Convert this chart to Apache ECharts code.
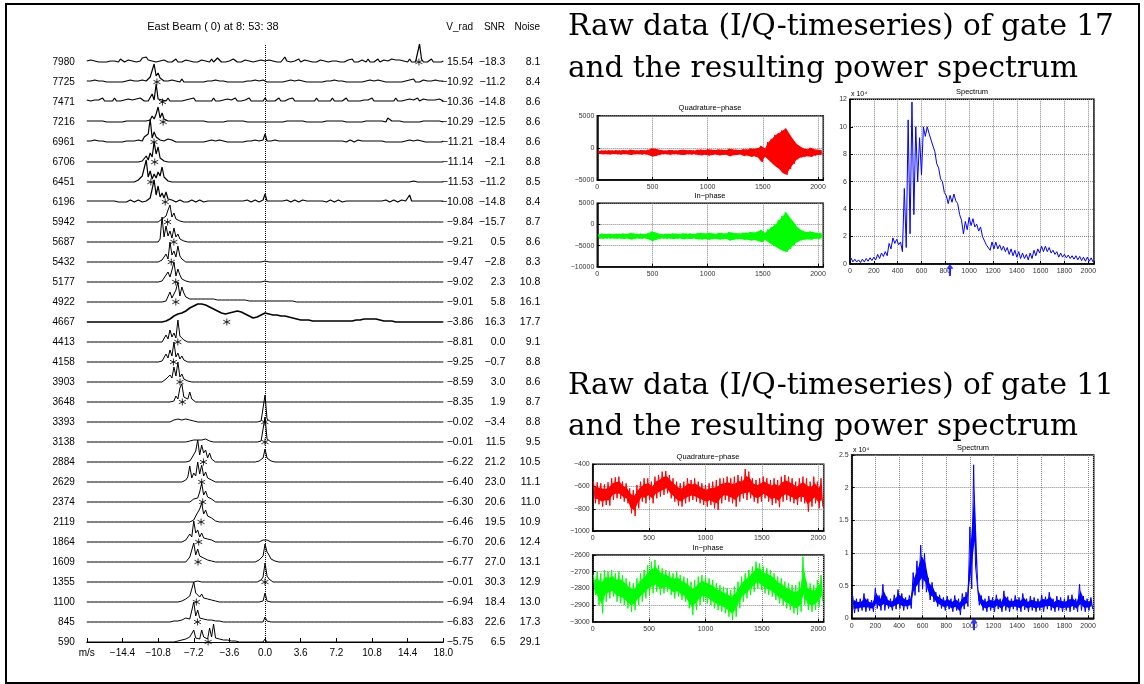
<!DOCTYPE html>
<html>
<head>
<meta charset="utf-8">
<title>East Beam spectra and raw I/Q data</title>
<script src="https://cdn.jsdelivr.net/npm/echarts@6/dist/echarts.min.js"></script>
<style>
    html, body { margin: 0; padding: 0; background: #fff; }
    #chart { width: 1144px; height: 684px; }
</style>
</head>
<body>
<div id="chart"></div>
<script>
// ---------------- 左边: 各距离门的多普勒谱 ----------------
var gates = [7980, 7725, 7471, 7216, 6961, 6706, 6451, 6196, 5942, 5687,
    5432, 5177, 4922, 4667, 4413, 4158, 3903, 3648, 3393, 3138,
    2884, 2629, 2374, 2119, 1864, 1609, 1355, 1100, 845, 590];
var vRad = [15.54, -10.92, -10.36, -10.29, -11.21, -11.14, -11.53, -10.08, -9.84, -9.21,
    -9.47, -9.02, -9.01, -3.86, -8.81, -9.25, -8.59, -8.35, -0.02, -0.01,
    -6.22, -6.40, -6.30, -6.46, -6.70, -6.77, -0.01, -6.94, -6.83, -5.75];
var snr = [-18.3, -11.2, -14.8, -12.5, -18.4, -2.1, -11.2, -14.8, -15.7, 0.5,
    -2.8, 2.3, 5.8, 16.3, 0.0, -0.7, 3.0, 1.9, -3.4, 11.5,
    21.2, 23.0, 20.6, 19.5, 20.6, 27.0, 30.3, 18.4, 22.6, 6.5];
var noise = [8.1, 8.4, 8.6, 8.6, 8.6, 8.8, 8.5, 8.4, 8.7, 8.6,
    8.3, 10.8, 16.1, 17.7, 9.1, 8.8, 8.6, 8.7, 8.8, 9.5,
    10.5, 11.1, 11.0, 10.9, 12.4, 13.1, 12.9, 13.0, 17.3, 29.1];

// 谱线高度 (base36, 像素), 每个字符一个 0.2 m/s 速度单元, 从 -18 到 18 m/s, 每组 10 个 = 2 m/s
var velStart = -18, velStep = 0.2, velBins = 181;
var spectra = [
    '1020130201 0210120310 1201302143 5241302102 1020130201 2013020120 1203014201 0210310201 2013021020 1020130201 5120210301 2013020120 1302101302 0120302012 1030201302 2010312021 12030201i3 0201302010 1',
    '1010201010 0102010201 1020101020 1253i69421 0102010030 1010201010 0101020101 1020101020 0101020102 1010102010 0102010201 1020101020 0101020101 1020101020 0102010201 1010201010 0102030102 2010102010 1',
    '2313212141 3121413122 1312131421 21382i3523 1412131213 2131413121 3121412132 1312141213 2141312131 4131212413 1231413121 2131214131 3121413121 1413121312 2121413121 3121214131 1213121412 3121212131 1',
    '1010101010 0101020101 1010101010 132638f493 2101010101 0101010101 1010101010 0101010101 1010101010 1010101010 0101010101 1010101010 0101010101 1010101010 0101010101 1042101010 0101010101 1010101010 0',
    '1010201010 0102010102 1010102315 38n4a56241 2312101020 1010102010 0102010201 1020101020 0101020102 8101020101 2121010101 0101210121 0121012101 1012101201 0121010101 2010201010 0102010201 1010201010 1',
    '0000000000 0000000000 0000000013 6295k8f421 1000000000 0000000000 0000000000 0000000000 0000000000 1000000000 0000000000 0000000000 0000000000 0000000000 0000000000 0000000000 0000000000 0000000000 0',
    '0000000000 0000000000 0000002164 m5b384a6f5 3100000000 0000000000 0000000000 0000000000 0000000000 1000000000 0000000000 0000000000 0000000000 0000000000 0000000000 0000000000 0000010000 0000000000 0',
    '1012101010 1210120101 0121012101 1242m7g594 a312101210 1012101210 2101210121 0121012101 1210121012 8101210121 1210121012 0121012101 1012101210 2101210121 0121012101 1210121012 0127101210 1210121012 1',
    '0000000000 0000000000 0000000000 0000000132 6ch5934100 0000000000 0000000000 0000000000 0000000000 1000000000 0000000000 0000000000 0000000000 0000000000 0000000000 0000000000 0000000000 0000000000 0',
    '0000000000 0000000000 0000000000 00000003p5 g6b4e58321 0000000000 0000000000 0000000000 0000000000 1000000000 0000000000 0000000000 0000000000 0000000000 0000000000 0000000000 0000000000 0000000000 0',
    '0000000000 0000000000 0000000000 0000000025 83k7b5g631 0000000000 0000000000 0000000000 0000000000 1000000000 0000000000 0000000000 0000000000 0000000000 0000000000 0000000000 0000000000 0000000000 0',
    '0000000000 0000000000 0000000000 0000000014 6a5ck6d732 1000000000 0000000000 0000000000 0000000000 1000000000 0000000000 0000000000 0000000000 0000000000 0000000000 0000000000 0000000000 0000000000 0',
    '0000000000 0000000000 0000000000 0000000000 13a48ck6f9 5333333333 3333322222 2222222222 2211111111 1111111111 1111110000 0000000000 0000000000 0000000000 0000000000 0000000000 0000000000 0000000000 0',
    '0000000000 0000000000 0000000000 0000000001 123567889a bcefghiiih hgfedcba98 889aabbba9 8765445678 9887777666 6555443322 2221111111 1111111111 1111112222 3333333222 1111100000 0000000000 0000000000 0',
    '0000000000 0000000000 0000000000 0000000002 73c594m652 1000000000 0000000000 0000000000 0000000000 2000000000 0000000000 0000000000 0000000000 0000000000 0000000000 0000000000 0000000000 0000000000 0',
    '0000000000 0000000000 0000000000 0000000013 84c6k59362 1000000000 0000000000 0000000000 0000000000 1000000000 0000000000 0000000000 0000000000 0000000000 0000000000 0000000000 0000000000 0000000000 0',
    '0000000000 0000000000 0000000000 0000000001 3274f6k583 4100000000 0000000000 0000000000 0000000000 2000000000 0000000000 0000000000 0000000000 0000000000 0000000000 0000000000 0000000000 0000000000 0',
    '0000000000 0000000000 0000000000 0000000000 0002163ei5 73a3100000 0000000000 0000000000 0000000000 2000000000 0000000000 0000000000 0000000000 0000000000 0000000000 0000000000 0000000000 0000000000 0',
    '0000000000 0000000000 0000000000 0000000000 0001223323 3221100000 0000000000 0000000000 0000000013 r310000000 0000000000 0000000000 0000000000 0000000000 0000000000 0000000000 0000000000 0000000000 0',
    '0000000000 0000000000 0000000000 0000000000 0000000000 0012232322 3211000000 0000000000 0000000013 p310000000 0000000000 0000000000 0000000000 0000000000 0000000000 0000000000 0000000000 0000000000 0',
    '0000000000 0000000000 0000000000 0000000000 0000000000 00142bm7h9 c493100000 0000000000 0000000124 d421000000 0000000000 0000000000 0000000000 0000000000 0000000000 0000000000 0000000000 0000000000 0',
    '0000000000 0000000000 0000000000 0000000000 0000000001 25g496k8h6 a452100000 0000000000 0000000000 0000000000 0000000000 0000000000 0000000000 0000000000 0000000000 0000000000 0000000000 0000000000 0',
    '0000000000 0000000000 0000000000 0000000000 0000000000 0001354aj7 b563100000 0000000000 0000000000 0000000000 0000000000 0000000000 0000000000 0000000000 0000000000 0000000000 0000000000 0000000000 0',
    '0000000000 0000000000 0000000000 0000000000 0000000000 0001264dj8 c684210000 0000000000 0000000000 0000000000 0000000000 0000000000 0000000000 0000000000 0000000000 0000000000 0000000000 0000000000 0',
    '0000000000 0000000000 0000000000 0000000000 0000000000 2385l9c594 6342100000 0000000000 0000000012 3210000000 0000000000 0000000000 0000000000 0000000000 0000000000 0000000000 0000000000 0000000000 0',
    '0000000000 0000000000 0000000000 0000000000 0000000000 0153j7d684 5231000000 0000000000 0000001236 ia73210000 0000000000 0000000000 0000000000 0000000000 0000000000 0000000000 0000000000 0000000000 0',
    '0000000000 0000000000 0000000000 0000000000 0000000000 0000001100 0000000000 0000000000 0000000125 j631000000 0000000000 0000000000 0000000000 0000000000 0000000000 0000000000 0000000000 0000000000 0',
    '0000000000 0000000000 0000000000 0000000000 0000000012 3264k9b584 6342211000 0000000000 0000000001 9100000000 0000000000 0000000000 0000000000 0000000000 0000000000 0000000000 0000000000 0000000000 0',
    '0000000000 0000000000 0000000000 0000000000 0000101223 4232k6c463 5232111100 0000000000 0000000000 5100000000 0000000000 0000000000 0000000000 0000000000 0000000000 0000000000 0000000000 0000000000 0',
    '0000000000 0000000000 0000000000 0000000000 0000001122 3253c463c5 63e5i46342 3221110000 0000000000 3000000000 0000000000 0000000000 0000000000 0000000000 0000000000 0000000000 0000000000 0000000000 0'
];

// ---------------- 右边: I/Q 时间序列与功率谱 (每 32 个采样一个 高/低 值) ----------------
var samples = 2048;
var q17Hi = [-450, -400, -420, -380, -430, -380, -400, -350,
    -420, -300, -380, -420, -350, -400, -300, -100,
    -150, -300, -380, -400, -320, -380, -400, -330,
    -300, -380, -350, -400, -300, -280, -330, -200,
    -300, -350, -250, -300, -330, -150, -250, -300,
    -350, -200, -250, -100, -150, -50, 300, -100,
    900, 1400, 2000, 2300, 2700, 3000, 2100, 1300,
    600, 200, -100, -200, 0, -200, -300, -350];
var q17Lo = [-950, -1000, -980, -1020, -960, -1000, -1050, -980,
    -1000, -1100, -1000, -980, -1050, -1000, -1100, -1350,
    -1250, -1100, -1000, -980, -1080, -1000, -1000, -1080,
    -1100, -1000, -1050, -1000, -1100, -1150, -1080, -1200,
    -1100, -1050, -1150, -1100, -1080, -1300, -1150, -1100,
    -1050, -1250, -1200, -1400, -1300, -1500, -2200, -1400,
    -1900, -2400, -2900, -3300, -3900, -4200, -3300, -2500,
    -1800, -1500, -1400, -1300, -1400, -1200, -1100, -1100];
var i17Hi = [-2300, -2200, -2250, -2200, -2300, -2200, -2250, -2150,
    -2250, -2000, -2150, -2250, -2200, -2300, -2100, -1700,
    -1900, -2200, -2300, -2200, -2250, -2150, -2200, -2250,
    -2100, -2200, -2150, -2250, -2100, -2050, -2150, -2000,
    -2100, -2200, -2050, -2100, -2150, -1800, -2000, -2100,
    -2150, -1950, -2000, -1800, -1900, -1700, -1300, -2000,
    -1200, -600, 0, 1000, 2000, 2900, 1700, 700,
    -500, -1200, -1600, -1800, -1700, -1900, -2000, -2100];
var i17Lo = [-3300, -3400, -3350, -3300, -3300, -3400, -3350, -3450,
    -3350, -3550, -3400, -3350, -3400, -3300, -3500, -3900,
    -3700, -3400, -3300, -3400, -3350, -3450, -3400, -3350,
    -3500, -3400, -3450, -3350, -3500, -3550, -3450, -3600,
    -3500, -3400, -3550, -3500, -3450, -3800, -3600, -3500,
    -3450, -3650, -3600, -3800, -3700, -3900, -4200, -3600,
    -4300, -4800, -5300, -5800, -6200, -6500, -5800, -4900,
    -4200, -3800, -3600, -3500, -3600, -3400, -3400, -3300];
var spec17Hi = [0.45, 0.35, 0.3, 0.35, 0.4, 0.45, 0.5, 0.7,
    0.8, 0.9, 1.5, 1.9, 1.8, 1.6, 5.5, 10.5,
    11.8, 10, 9.2, 10, 10, 9.4, 8.2, 7,
    6, 5, 5, 5.1, 4.4, 3.2, 3.1, 3.4,
    3.3, 2.9, 2.7, 2.0, 1.5, 1.6, 1.6, 1.4,
    1.3, 1.2, 1.1, 1.0, 0.9, 0.8, 0.7, 0.8,
    1.0, 1.1, 1.3, 1.3, 1.2, 1.0, 0.9, 0.8,
    0.7, 0.65, 0.6, 0.6, 0.55, 0.5, 0.5, 0.45];
var spec17Lo = [0.15, 0.15, 0.1, 0.15, 0.2, 0.25, 0.3, 0.4,
    0.55, 0.6, 1.1, 1.5, 1.4, 0.9, 1.2, 2.2,
    3.6, 6, 6.5, 9.3, 9.5, 8.6, 7.3, 6.2,
    5.2, 4.4, 4.5, 4.6, 3.6, 2.2, 2.5, 2.8,
    2.7, 2.4, 2.0, 1.4, 1.0, 1.1, 1.1, 1.0,
    0.9, 0.7, 0.6, 0.5, 0.4, 0.4, 0.3, 0.4,
    0.6, 0.8, 0.9, 0.9, 0.8, 0.7, 0.5, 0.5,
    0.45, 0.4, 0.35, 0.3, 0.25, 0.2, 0.2, 0.15];

var q11Hi = [-556, -562, -571, -580, -562, -526, -517, -511,
    -556, -571, -616, -631, -586, -556, -526, -526,
    -556, -511, -496, -466, -460, -496, -526, -556,
    -571, -556, -526, -541, -526, -556, -571, -586,
    -571, -556, -541, -526, -526, -511, -526, -511,
    -496, -511, -442, -466, -526, -541, -526, -511,
    -526, -541, -526, -541, -511, -496, -511, -526,
    -556, -526, -511, -526, -556, -511, -556, -526];
var q11Lo = [-751, -760, -781, -766, -772, -721, -706, -711,
    -736, -751, -841, -866, -796, -736, -751, -721,
    -751, -706, -691, -676, -661, -706, -736, -772,
    -781, -751, -736, -721, -736, -751, -766, -781,
    -766, -796, -811, -751, -721, -736, -751, -781,
    -736, -706, -721, -706, -736, -751, -736, -706,
    -736, -766, -751, -786, -736, -721, -736, -751,
    -766, -736, -751, -826, -781, -751, -796, -781];
var i11Hi = [-2720, -2700, -2710, -2690, -2700, -2690, -2710, -2700,
    -2720, -2740, -2760, -2770, -2740, -2710, -2690, -2660,
    -2640, -2630, -2660, -2680, -2690, -2700, -2710, -2700,
    -2720, -2730, -2740, -2760, -2750, -2730, -2720, -2730,
    -2740, -2750, -2770, -2780, -2790, -2800, -2810, -2790,
    -2760, -2730, -2710, -2690, -2670, -2640, -2650, -2670,
    -2680, -2690, -2710, -2730, -2740, -2760, -2770, -2780,
    -2780, -2760, -2610, -2760, -2770, -2780, -2750, -2720];
var i11Lo = [-2840, -2900, -2950, -2880, -2860, -2850, -2880, -2890,
    -2900, -2920, -2940, -2930, -2900, -2880, -2860, -2840,
    -2830, -2820, -2840, -2830, -2820, -2840, -2860, -2850,
    -2870, -2880, -2920, -2960, -2930, -2900, -2880, -2890,
    -2900, -2920, -2930, -2940, -2950, -2970, -2990, -2970,
    -2920, -2880, -2860, -2840, -2820, -2800, -2810, -2830,
    -2840, -2850, -2870, -2890, -2900, -2920, -2930, -2950,
    -2960, -2940, -2900, -2930, -2940, -2930, -2910, -2880];
var spec11Hi = [0.35, 0.3, 0.3, 0.38, 0.3, 0.28, 0.46, 0.35,
    0.52, 0.33, 0.3, 0.36, 0.44, 0.38, 0.32, 0.35,
    0.7, 0.88, 1.12, 1.0, 0.62, 0.55, 0.4, 0.36,
    0.32, 0.34, 0.3, 0.35, 0.3, 0.38, 0.4, 1.4,
    2.35, 0.5, 0.35, 0.3, 0.34, 0.32, 0.36, 0.3,
    0.42, 0.33, 0.3, 0.35, 0.32, 0.38, 0.3, 0.34,
    0.32, 0.3, 0.36, 0.33, 0.4, 0.3, 0.34, 0.32,
    0.3, 0.35, 0.36, 0.3, 0.52, 0.34, 0.3, 0.32];
var spec11Lo = [0.08, 0.1, 0.12, 0.1, 0.12, 0.1, 0.15, 0.12,
    0.12, 0.15, 0.12, 0.14, 0.15, 0.12, 0.14, 0.15,
    0.35, 0.4, 0.45, 0.4, 0.28, 0.25, 0.18, 0.15,
    0.12, 0.14, 0.1, 0.12, 0.05, 0.14, 0.18, 0.45,
    0.8, 0.2, 0.12, 0.1, 0.12, 0.1, 0.14, 0.1,
    0.12, 0.1, 0.14, 0.12, 0.1, 0.13, 0.1, 0.12,
    0.1, 0.12, 0.1, 0.14, 0.12, 0.1, 0.12, 0.1,
    0.12, 0.1, 0.13, 0.1, 0.12, 0.1, 0.12, 0.14];
// 箭头: 平均多普勒频点
var arrowBins = [839, 1035];

var titleLines = ['Raw data (I/Q-timeseries) of gate 17', 'and the resulting power spectrum',
    'Raw data (I/Q-timeseries) of gate 11', 'and the resulting power spectrum'];
var headerText = 'East Beam ( 0) at 8: 53: 38';
var columnNames = ['V_rad', 'SNR', 'Noise'];

var rowCount = gates.length;

function minus(s) {
    return String(s).replace('-', '\u2212');
}

function rowData(i) {
    var s = spectra[i].replace(/\s/g, '');
    while (s.length < velBins) s += '0';
    var pts = [];
    for (var j = 0; j < velBins; j++) {
        pts.push([velStart + j * velStep, (rowCount - 1 - i) + parseInt(s.charAt(j), 36) / 20]);
    }
    return pts;
}

function zigzag(hi, lo) {
    var w = samples / hi.length, pts = [];
    for (var k = 0; k < hi.length; k++) {
        pts.push([k * w + w / 4, hi[k]]);
        pts.push([k * w + 3 * w / 4, lo[k]]);
    }
    return pts;
}

// 高低包络之间填色 (core<1 时只填中间部分, 让边缘保留锯齿)
function bandSeries(hi, lo, xi, yi, color, core) {
    var w = samples / hi.length;
    return {
        type: 'custom', xAxisIndex: xi, yAxisIndex: yi, silent: true, data: [[0, 0]],
        renderItem: function (params, api) {
            var pts = [], k, m, h;
            for (k = 0; k < hi.length; k++) {
                m = (hi[k] + lo[k]) / 2; h = (hi[k] - lo[k]) / 2 * core;
                pts.push(api.coord([k * w + w / 2, m + h]));
            }
            for (k = lo.length - 1; k >= 0; k--) {
                m = (hi[k] + lo[k]) / 2; h = (hi[k] - lo[k]) / 2 * core;
                pts.push(api.coord([k * w + w / 2, m - h]));
            }
            return { type: 'polygon', shape: { points: pts }, style: { fill: color } };
        }
    };
}

function rowLabelAxis(margin, list, digits) {
    return {
        type: 'value', gridIndex: 0, position: 'right',
        min: 0, max: 29.9, interval: 1,
        axisLine: { show: false }, axisTick: { show: false }, splitLine: { show: false },
        axisLabel: {
            align: 'right', margin: margin, fontSize: 10.5, color: '#000',
            formatter: function (v) {
                if (Math.abs(v - Math.round(v)) > 1e-6) return '';
                var i = rowCount - 1 - Math.round(v);
                return minus(list[i].toFixed(digits));
            }
        }
    };
}

// matlab 风格坐标轴
function matX(grid, step) {
    return {
        type: 'value', gridIndex: grid, min: 0, max: samples, interval: step,
        axisLine: { onZero: false, lineStyle: { color: '#000', width: 1.5 } },
        axisTick: { inside: true, length: 3, lineStyle: { color: '#000' } },
        axisLabel: {
            fontSize: 7, color: '#333', margin: 4,
            formatter: function (v) { return v % step === 0 ? v : ''; }
        },
        splitLine: { show: true, lineStyle: { color: '#888', type: 'dotted' } }
    };
}

function matY(grid, min, max, step) {
    return {
        type: 'value', gridIndex: grid, min: min, max: max, interval: step,
        axisLine: { onZero: false, lineStyle: { color: '#000', width: 1.5 } },
        axisTick: { inside: true, length: 3, lineStyle: { color: '#000' } },
        axisLabel: {
            fontSize: 7, color: '#333', margin: 3,
            formatter: function (v) { return minus(v); }
        },
        splitLine: { show: true, lineStyle: { color: '#888', type: 'dotted' } }
    };
}

function matGrid(left, top, width, height) {
    return { left: left, top: top, width: width, height: height, show: true, borderColor: '#000', borderWidth: 1.5 };
}

function txt(x, y, text, font, align) {
    return {
        type: 'text', x: x, y: y, silent: true,
        style: {
            text: text, font: font, fill: '#000',
            textAlign: align || 'center', textVerticalAlign: 'middle',
            align: align || 'center', verticalAlign: 'middle'
        }
    };
}

function chartRender() {
    var chart = echarts.init(document.getElementById('chart'));

    var series = [];
    for (var i = 0; i < rowCount; i++) {
        series.push({
            type: 'line', xAxisIndex: 0, yAxisIndex: 0, data: rowData(i),
            symbol: 'none', clip: false, silent: true,
            lineStyle: { color: '#000', width: gates[i] === 4667 ? 1.6 : (i < 8 ? 1.2 : 1) }
        });
    }
    // 平均速度星号 + 0 m/s 虚线
    series.push({
        type: 'scatter', xAxisIndex: 0, yAxisIndex: 0, silent: true,
        data: vRad.map(function (v, i) { return [v, rowCount - 1 - i]; }),
        symbol: 'path://M0,-5L0,5M-4.33,-2.5L4.33,2.5M-4.33,2.5L4.33,-2.5',
        symbolSize: 7,
        itemStyle: { color: '#000', borderColor: '#000', borderWidth: 1 },
        markLine: {
            silent: true, symbol: ['none', 'none'], label: { show: false },
            lineStyle: { color: '#000', type: 'dotted', width: 1 },
            data: [{ xAxis: 0 }]
        }
    });

    // [高, 低, x轴, y轴, 颜色, 填色比例]
    var iq = [
        [q17Hi, q17Lo, 1, 4, '#ff0000', 1], [i17Hi, i17Lo, 2, 5, '#00ff00', 1], [spec17Hi, spec17Lo, 3, 6, '#0000ff', 0],
        [q11Hi, q11Lo, 4, 7, '#ff0000', 0.55], [i11Hi, i11Lo, 5, 8, '#00ff00', 0.55], [spec11Hi, spec11Lo, 6, 9, '#0000ff', 0.5]
    ];
    iq.forEach(function (d) {
        if (d[5] > 0) series.push(bandSeries(d[0], d[1], d[2], d[3], d[4], d[5]));
        series.push({
            type: 'line', xAxisIndex: d[2], yAxisIndex: d[3], data: zigzag(d[0], d[1]),
            symbol: 'none', silent: true, lineStyle: { color: d[4], width: 1 }
        });
    });
    [[3, 6], [6, 9]].forEach(function (a, k) {
        series.push({
            type: 'scatter', xAxisIndex: a[0], yAxisIndex: a[1], clip: false, silent: true,
            data: [[arrowBins[k], 0]],
            symbol: 'path://M5,0L10,7L6.5,7L6.5,18L3.5,18L3.5,7L0,7Z',
            symbolSize: [7, 12], symbolOffset: [0, 6],
            itemStyle: { color: '#0000ff' }
        });
    });

    var option = {
        animation: false,
        backgroundColor: '#fff',
        textStyle: { fontFamily: 'Liberation Sans' },
        grid: [
            { left: 86.8, right: 700.7, top: 44, bottom: 42 },
            matGrid(597.3, 115.7, 226, 64.3),
            matGrid(597.3, 203.3, 226, 63.4),
            matGrid(850, 99.3, 244, 164.7),
            matGrid(592.7, 464.3, 231, 66.7),
            matGrid(592.7, 555, 231, 66.7),
            matGrid(851.7, 455, 242, 163.3)
        ],
        xAxis: [
            {
                type: 'value', gridIndex: 0, min: -18, max: 18, interval: 3.6,
                axisLine: { onZero: false, lineStyle: { color: '#000', width: 1 } },
                axisTick: { inside: true, length: 4, lineStyle: { color: '#000' } },
                splitLine: { show: false },
                axisLabel: {
                    fontSize: 10, color: '#000', margin: 6, showMinLabel: true, showMaxLabel: true,
                    formatter: function (v) { return v < -17.9 ? 'm/s' : minus(v.toFixed(1)); }
                }
            },
            matX(1, 500), matX(2, 500), matX(3, 200), matX(4, 500), matX(5, 500), matX(6, 200)
        ],
        yAxis: [
            {
                type: 'value', gridIndex: 0, min: 0, max: 29.9, interval: 1,
                axisLine: { show: false }, axisTick: { show: false }, splitLine: { show: false },
                axisLabel: {
                    margin: 12, fontSize: 10, color: '#000',
                    formatter: function (v) {
                        if (Math.abs(v - Math.round(v)) > 1e-6) return '';
                        return String(gates[rowCount - 1 - Math.round(v)]);
                    }
                }
            },
            rowLabelAxis(30, vRad, 2),
            rowLabelAxis(62, snr, 1),
            rowLabelAxis(97, noise, 1),
            matY(1, -5000, 5000, 5000),
            matY(2, -10000, 5000, 5000),
            matY(3, 0, 12, 2),
            matY(4, -1000, -400, 200),
            matY(5, -3000, -2600, 100),
            matY(6, 0, 2.5, 0.5)
        ],
        graphic: [
            {
                type: 'rect', silent: true,
                shape: { x: 6, y: 4, width: 1133, height: 679 },
                style: { fill: 'none', stroke: '#000', lineWidth: 2 }
            },
            txt(213, 27, headerText, '11px "Liberation Sans"'),
            txt(473, 27, columnNames[0], '10px "Liberation Sans"', 'right'),
            txt(505, 27, columnNames[1], '10px "Liberation Sans"', 'right'),
            txt(540, 27, columnNames[2], '10px "Liberation Sans"', 'right'),
            txt(568, 27, titleLines[0], '29.5px "DejaVu Serif"', 'left'),
            txt(568, 69, titleLines[1], '29.5px "DejaVu Serif"', 'left'),
            txt(568, 386, titleLines[2], '29.5px "DejaVu Serif"', 'left'),
            txt(568, 427, titleLines[3], '29.5px "DejaVu Serif"', 'left'),
            txt(710, 108, 'Quadrature\u2212phase', '7.5px "Liberation Sans"'),
            txt(710, 196, 'In\u2212phase', '7.5px "Liberation Sans"'),
            txt(972, 92, 'Spectrum', '7.5px "Liberation Sans"'),
            txt(851, 94, 'x 10\u2074', '7px "Liberation Sans"', 'left'),
            txt(708, 457, 'Quadrature\u2212phase', '7.5px "Liberation Sans"'),
            txt(708, 548, 'In\u2212phase', '7.5px "Liberation Sans"'),
            txt(973, 448, 'Spectrum', '7.5px "Liberation Sans"'),
            txt(853, 450, 'x 10\u2074', '7px "Liberation Sans"', 'left')
        ],
        series: series
    };

    chart.setOption(option);
}

chartRender();
</script>
</body>
</html>
